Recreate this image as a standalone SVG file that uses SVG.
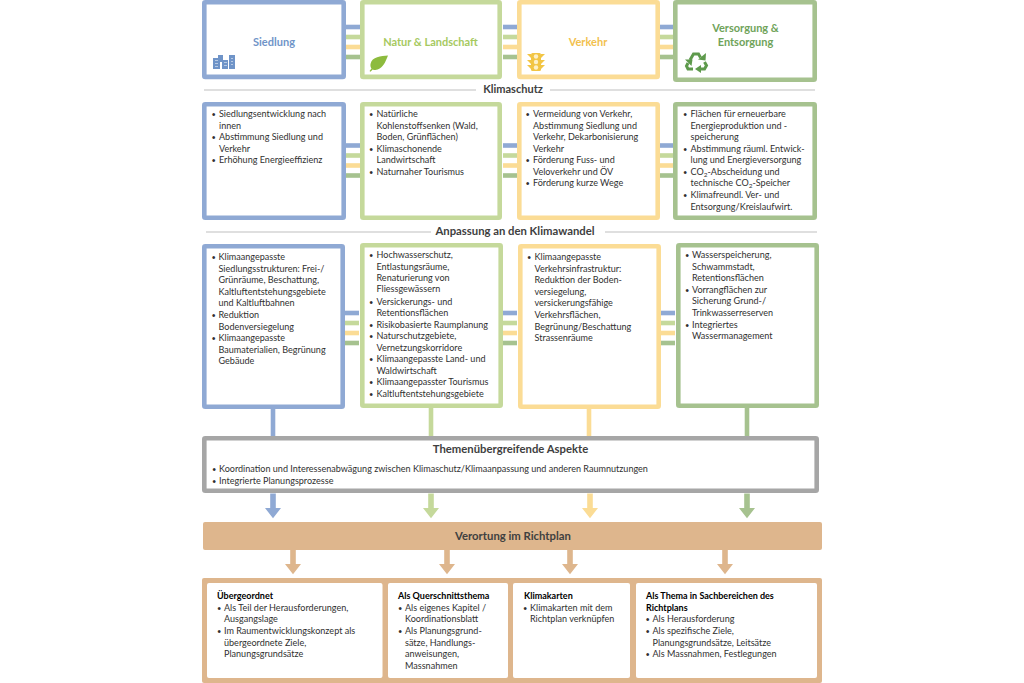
<svg xmlns="http://www.w3.org/2000/svg" width="1024" height="683" viewBox="0 0 1024 683">
<style>
text{font-family:"Lato","Carlito","Liberation Sans",sans-serif;font-size:9.05px;fill:#303030}
.box{fill:#fff;stroke-width:4.6}
.blue{stroke:#8fa9d4}.green{stroke:#c5d99b}.yellow{stroke:#fbdc95}.dgreen{stroke:#a6c28f}.gray{stroke:#a6a6a6}
.bar{fill:none;stroke-width:4.6}
.head{font-size:11px;font-weight:700;text-anchor:middle}
.sec{font-size:11px;font-weight:700;fill:#404040;text-anchor:middle}
.b{font-weight:700;fill:#000;font-size:9px}
.d{font-size:7.5px}
.rule{stroke:#bfbfbf;stroke-width:1;fill:none}
</style>
<defs>
<g id="bars"><path class="bar blue" d="M0 0h14"/><path class="bar green" d="M0 10h14"/><path class="bar yellow" d="M0 20h14"/><path class="bar dgreen" d="M0 30h14"/></g>
<path id="arr" d="M-2.600 0h5.200v15h7.700l-10.300 0"/>
<path id="down" d="M-2.800 0h5.600v14.500h5.200l-8 10.300-8-10.300h5.200z"/>
</defs>
<g id="connectors">
<g id="bars-row1"><use href="#bars" x="346" y="27"/><use href="#bars" x="503" y="27"/><use href="#bars" x="660" y="27"/></g>
<g id="bars-row2"><use href="#bars" x="346" y="145.500"/><use href="#bars" x="503" y="145.500"/><use href="#bars" x="660" y="145.500"/></g>
<g id="bars-row3"><use href="#bars" x="345" y="313"/><use href="#bars" x="503" y="313"/><use href="#bars" x="661" y="313"/></g>
<path class="bar blue" d="M273 409V437"/><path class="bar green" d="M431 408V437"/><path class="bar yellow" d="M589 409V437"/><path class="bar dgreen" d="M747 408V437"/>
<use href="#down" x="273" y="493.500" fill="#8fa9d4"/>
<use href="#down" x="431" y="493.500" fill="#c5d99b"/>
<use href="#down" x="590" y="493.500" fill="#fbdc95"/>
<use href="#down" x="747" y="493.500" fill="#a6c28f"/>
<use href="#down" x="293" y="549.500" fill="#deb68d"/>
<use href="#down" x="447" y="549.500" fill="#deb68d"/>
<use href="#down" x="570" y="549.500" fill="#deb68d"/>
<use href="#down" x="725" y="549.500" fill="#deb68d"/>
<path class="rule" d="M204 90H476M550 90H815M206 232H431M605 232H817"/>
</g>
<text class="sec" x="513" y="93">Klimaschutz</text>
<text class="sec" x="515" y="235" style="font-size:11.300px">Anpassung an den Klimawandel</text>

<g id="siedlung"><rect class="box blue" x="204.300" y="2.300" width="139.400" height="74.600" rx="1"/>
<text class="head" x="274" y="46" style="fill:#6f94c8">Siedlung</text>
<g fill="#6f94c8"><rect x="213" y="58" width="7" height="11"/><rect x="218" y="55" width="5" height="7"/><rect x="222" y="60" width="6" height="9"/><rect x="229" y="55" width="6" height="14"/></g>
<g fill="#fff" opacity=".5"><path d="M215 60h3v1h-3zM215 63h3v1h-3zM215 66h3v1h-3zM224 62h3v1h-3zM224 65h3v1h-3zM231 58h2v1h-2zM231 61h2v1h-2zM231 64h2v1h-2z"/></g></g>
<g id="natur"><rect class="box green" x="362.300" y="2.300" width="137.400" height="74.600" rx="1"/>
<text class="head" x="430.500" y="46" style="fill:#a6c95f">Natur &amp; Landschaft</text>
<path d="M388 55.500c-7 .5-16 1-17.500 8.500-.3 2 .3 3.500 1 4.500l-2 2.500 1 .8 2.200-2.400c2 1 5 .6 7-.8 5-3.500 6-8 8.300-13.100z" fill="#8dbb3e"/></g>
<g id="verkehr"><rect class="box yellow" x="519.300" y="2.300" width="138.400" height="74.600" rx="1"/>
<text class="head" x="588" y="46" style="fill:#f2c14e">Verkehr</text>
<g fill="#f2c544"><rect x="531" y="53" width="10" height="18" rx="1.500"/><path d="M527 54h4v4zM545 54h-4v4zM527 60h4v4zM545 60h-4v4zM527 65h4v4zM545 65h-4v4z"/></g><g fill="#fdf0c8"><circle cx="536" cy="56.500" r="2.200"/><circle cx="536" cy="62" r="2.200"/><circle cx="536" cy="67.500" r="2.200"/></g></g>
<g id="versorgung"><rect class="box dgreen" x="675.300" y="2.300" width="139.400" height="77.400" rx="1"/>
<text class="head" x="745.500" y="31.500" style="fill:#6fa35a">Versorgung &amp;</text><text class="head" x="745.500" y="46" style="fill:#6fa35a">Entsorgung</text>
<g fill="none" stroke="#5e9a4c" stroke-width="3"><path d="M690 60l3.500-6h5l2 3.500"/><path d="M704.500 62l2 3.500-2 3.500h-4"/><path d="M693 69h-5l-1.500-3 1.500-3"/></g><g fill="#5e9a4c"><path d="M698 59.500l7.500 1 .5-7.500z"/><path d="M701 65v8l-6-4z"/><path d="M685 59.500l7.500 0 -1 6.500z"/></g></g>

<g id="klimaschutz-siedlung"><rect class="box blue" x="204.300" y="104.300" width="139.400" height="113.400" rx="1"/>
<text class="d" x="211.500" y="117">•</text><text x="219" y="117">Siedlungsentwicklung  nach</text><text x="219" y="129">innen</text>
<text class="d" x="211.500" y="140">•</text><text x="219" y="140">Abstimmung Siedlung und</text><text x="219" y="152">Verkehr</text>
<text class="d" x="211.500" y="163">•</text><text x="219" y="163">Erhöhung Energieeffizienz</text></g>
<g id="klimaschutz-natur"><rect class="box green" x="362.300" y="104.300" width="137.400" height="113.400" rx="1"/>
<text class="d" x="369" y="117">•</text><text x="376.500" y="117">Natürliche</text><text x="376.500" y="129">Kohlenstoffsenken (Wald,</text><text x="376.500" y="140">Boden, Grünflächen)</text>
<text class="d" x="369" y="152">•</text><text x="376.500" y="152">Klimaschonende</text><text x="376.500" y="163">Landwirtschaft</text>
<text class="d" x="369" y="175">•</text><text x="376.500" y="175">Naturnaher Tourismus</text></g>
<g id="klimaschutz-verkehr"><rect class="box yellow" x="519.300" y="104.300" width="138.400" height="113.400" rx="1"/>
<text class="d" x="525.500" y="117">•</text><text x="533" y="117">Vermeidung von Verkehr,</text><text x="533" y="129">Abstimmung Siedlung und</text><text x="533" y="140">Verkehr, Dekarbonisierung</text><text x="533" y="152">Verkehr</text>
<text class="d" x="525.500" y="163">•</text><text x="533" y="163">Förderung Fuss- und</text><text x="533" y="175">Veloverkehr und ÖV</text>
<text class="d" x="525.500" y="186">•</text><text x="533" y="186">Förderung kurze Wege</text></g>
<g id="klimaschutz-versorgung"><rect class="box dgreen" x="675.300" y="104.300" width="139.400" height="113.400" rx="1"/>
<text class="d" x="683" y="117">•</text><text x="690.500" y="117">Flächen für erneuerbare</text><text x="690.500" y="129">Energieproduktion und -</text><text x="690.500" y="140">speicherung</text>
<text class="d" x="683" y="152">•</text><text x="690.500" y="152">Abstimmung räuml. Entwick-</text><text x="690.500" y="163">lung und Energieversorgung</text>
<text class="d" x="683" y="175">•</text><text x="690.500" y="175">CO<tspan font-size="6.500" dy="2">2</tspan><tspan dy="-2">-Abscheidung und</tspan></text><text x="690.500" y="186">technische CO<tspan font-size="6.500" dy="2">2</tspan><tspan dy="-2">-Speicher</tspan></text>
<text class="d" x="683" y="198">•</text><text x="690.500" y="198">Klimafreundl. Ver- und</text><text x="690.500" y="210">Entsorgung/Kreislaufwirt.</text></g>

<g id="anpassung-siedlung"><rect class="box blue" x="204.300" y="246.300" width="138.400" height="160.400" rx="1"/>
<text class="d" x="211.500" y="260">•</text><text x="218.500" y="260">Klimaangepasste</text><text x="218.500" y="272">Siedlungsstrukturen:  Frei-/</text><text x="218.500" y="283">Grünräume, Beschattung,</text><text x="218.500" y="295">Kaltluftentstehungsgebiete</text><text x="218.500" y="306">und Kaltluftbahnen</text>
<text class="d" x="211.500" y="318">•</text><text x="218.500" y="318">Reduktion</text><text x="218.500" y="330">Bodenversiegelung</text>
<text class="d" x="211.500" y="341">•</text><text x="218.500" y="341">Klimaangepasste</text><text x="218.500" y="353">Baumaterialien, Begrünung</text><text x="218.500" y="364">Gebäude</text></g>
<g id="anpassung-natur"><rect class="box green" x="362.300" y="245.300" width="138.400" height="160.400" rx="1"/>
<text class="d" x="369" y="258">•</text><text x="376.500" y="258">Hochwasserschutz,</text><text x="376.500" y="270">Entlastungsräume,</text><text x="376.500" y="281">Renaturierung von</text><text x="376.500" y="292">Fliessgewässern</text>
<text class="d" x="369" y="305">•</text><text x="376.500" y="305">Versickerungs- und</text><text x="376.500" y="316">Retentionsflächen</text>
<text class="d" x="369" y="328">•</text><text x="376.500" y="328">Risikobasierte Raumplanung</text>
<text class="d" x="369" y="339">•</text><text x="376.500" y="339">Naturschutzgebiete,</text><text x="376.500" y="351">Vernetzungskorridore</text>
<text class="d" x="369" y="362">•</text><text x="376.500" y="362">Klimaangepasste Land- und</text><text x="376.500" y="374">Waldwirtschaft</text>
<text class="d" x="369" y="385">•</text><text x="376.500" y="385">Klimaangepasster Tourismus</text>
<text class="d" x="369" y="397">•</text><text x="376.500" y="397">Kaltluftentstehungsgebiete</text></g>
<g id="anpassung-verkehr"><rect class="box yellow" x="520.300" y="246.300" width="138.400" height="160.400" rx="1"/>
<text class="d" x="527" y="260">•</text><text x="534.500" y="260">Klimaangepasste</text><text x="534.500" y="272">Verkehrsinfrastruktur:</text><text x="534.500" y="283">Reduktion der Boden-</text><text x="534.500" y="295">versiegelung,</text><text x="534.500" y="306">versickerungsfähige</text><text x="534.500" y="318">Verkehrsflächen,</text><text x="534.500" y="330">Begrünung/Beschattung</text><text x="534.500" y="341">Strassenräume</text></g>
<g id="anpassung-versorgung"><rect class="box dgreen" x="678.300" y="245.300" width="138.400" height="160.400" rx="1"/>
<text class="d" x="685" y="258">•</text><text x="692" y="258">Wasserspeicherung,</text><text x="692" y="270">Schwammstadt,</text><text x="692" y="281">Retentionsflächen</text>
<text class="d" x="685" y="293">•</text><text x="692" y="293">Vorrangflächen zur</text><text x="692" y="304">Sicherung Grund-/</text><text x="692" y="316">Trinkwasserreserven</text>
<text class="d" x="685" y="328">•</text><text x="692" y="328">Integriertes</text><text x="692" y="339">Wassermanagement</text></g>

<g id="themen"><rect class="box gray" x="204.300" y="438.300" width="612.400" height="52.400" rx="1"/>
<text class="sec" x="510.500" y="453" style="font-size:11.300px">Themenübergreifende Aspekte</text>
<text class="d" x="212" y="472">•</text><text x="219" y="472">Koordination und Interessenabwägung zwischen Klimaschutz/Klimaanpassung und anderen Raumnutzungen</text>
<text class="d" x="212" y="484">•</text><text x="219" y="484">Integrierte Planungsprozesse</text></g>
<g id="verortung"><rect x="203" y="522" width="619" height="28" rx="2" fill="#deb68d"/>
<text class="sec" x="513" y="540" style="font-size:11.300px">Verortung im Richtplan</text></g>
<g id="richtplan"><rect x="202" y="578" width="620" height="105" rx="2" fill="#deb68d"/>
<rect x="207" y="583" width="175.500" height="95" rx="2" fill="#fff"/><rect x="388" y="583" width="120" height="95" rx="2" fill="#fff"/><rect x="513" y="583" width="117" height="95" rx="2" fill="#fff"/><rect x="636" y="583" width="181" height="95" rx="2" fill="#fff"/>
<text class="b" x="217" y="599">Übergeordnet</text>
<text class="d" x="217" y="611">•</text><text x="224" y="611">Als Teil der Herausforderungen,</text><text x="224" y="622">Ausgangslage</text>
<text class="d" x="217" y="634">•</text><text x="224" y="634">Im Raumentwicklungskonzept als</text><text x="224" y="646">übergeordnete Ziele,</text><text x="224" y="657">Planungsgrundsätze</text>
<text class="b" x="398" y="599">Als Querschnittsthema</text>
<text class="d" x="398" y="611">•</text><text x="405" y="611">Als eigenes Kapitel /</text><text x="405" y="622">Koordinationsblatt</text>
<text class="d" x="398" y="634">•</text><text x="405" y="634">Als Planungsgrund-</text><text x="405" y="646">sätze, Handlungs-</text><text x="405" y="657">anweisungen,</text><text x="405" y="669">Massnahmen</text>
<text class="b" x="524" y="599">Klimakarten</text>
<text class="d" x="523" y="611">•</text><text x="530" y="611">Klimakarten mit dem</text><text x="530" y="622">Richtplan verknüpfen</text>
<text class="b" x="646" y="599">Als Thema in Sachbereichen des</text><text class="b" x="646" y="611">Richtplans</text>
<text class="d" x="645.500" y="622">•</text><text x="652.500" y="622">Als Herausforderung</text>
<text class="d" x="645.500" y="634">•</text><text x="652.500" y="634">Als spezifische Ziele,</text><text x="652.500" y="646">Planungsgrundsätze,  Leitsätze</text>
<text class="d" x="645.500" y="657">•</text><text x="652.500" y="657">Als Massnahmen, Festlegungen</text></g>
</svg>
